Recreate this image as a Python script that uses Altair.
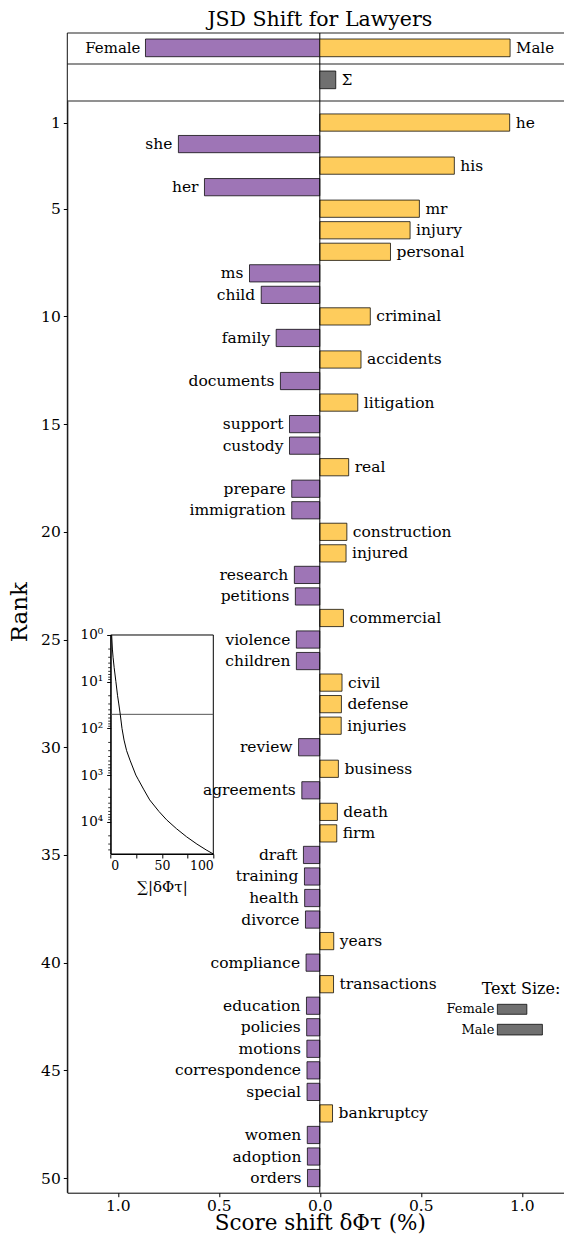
import altair as alt
import pandas as pd

# ---------------- data ----------------
words = ["he", "she", "his", "her", "mr", "injury", "personal", "ms", "child", "criminal",
         "family", "accidents", "documents", "litigation", "support", "custody", "real", "prepare",
         "immigration", "construction", "injured", "research", "petitions", "commercial", "violence",
         "children", "civil", "defense", "injuries", "review", "business", "agreements", "death", "firm",
         "draft", "training", "health", "divorce", "years", "compliance", "transactions", "education",
         "policies", "motions", "correspondence", "special", "bankruptcy", "women", "adoption", "orders"]
shifts = [0.940, -0.700, 0.666, -0.571, 0.493, 0.447, 0.350, -0.348, -0.290, 0.250,
          -0.216, 0.204, -0.195, 0.188, -0.150, -0.150, 0.143, -0.139, -0.139, 0.134,
          0.130, -0.126, -0.121, 0.117, -0.116, -0.116, 0.110, 0.107, 0.106, -0.105,
          0.092, -0.089, 0.087, 0.084, -0.081, -0.076, -0.075, -0.071, 0.069, -0.068,
          0.068, -0.066, -0.065, -0.064, -0.0635, -0.063, 0.063, -0.062, -0.0615, -0.061]
ranks = list(range(1, 51))

total_labels = ["Female", "Male"]
total_values = [-0.863, 0.942]
sigma_label = ["Σ"]
sigma_value = [0.079]

cum_ranks = [1, 2, 3, 5, 10, 20, 30, 50, 100, 178, 300, 478, 1000, 1260, 2000, 3400,
             6000, 9100, 14000, 21000, 30000, 40000, 49000]
cum_pct = [0.94, 1.64, 2.31, 3.37, 5.06, 6.7, 7.9, 9.3, 11.0, 13.0, 15.5, 18.8, 24.5, 27.0,
           32.0, 38.0, 47.0, 54.5, 64.0, 74.0, 84.0, 93.0, 100.0]
cutoff_rank = [50]

size_labels = ["Female", "Male"]
size_start = [0.879, 0.879]
size_values = [0.146, 0.223]

title_text = ["JSD Shift for Lawyers"]
x_ticks = [-1.0, -0.5, 0.0, 0.5, 1.0]
rank_ticks = [1, 5, 10, 15, 20, 25, 30, 35, 40, 45, 50]
inset_x_ticks = [0, 25, 50, 75, 100]
inset_y_ticks = [1, 10, 100, 1000, 10000]
inset_y_labels = ["10⁰", "10¹", "10²", "10³", "10⁴"]
minor_ticks = [m * 10 ** k for k in range(5) for m in range(2, 10) if m * 10 ** k < 49000]

PURPLE = "#9E75B6"
YELLOW = "#FECC5C"
GRAY = "#707070"
FONT = "DejaVu Serif"

# layout (pixels, relative to the plot area's top-left corner)
W_VIEW = 497              # visible part (page is 573 wide incl. 8px margins)
W = 505                   # full extent of the x scale (right edge falls off the page)
H = 1159.7
MAIN_TOP = 68.0
SEP1 = 31.0
IX0, IX1, IY0, IY1 = 43.4, 146.0, 602.0, 821.0

color_scale = alt.Scale(domain=["Female", "Male"], range=[PURPLE, YELLOW])
xs = alt.Scale(domain=[-1.25, 1.25], range=[0, W], nice=False, zero=False)
ys = alt.Scale(domain=[0, 50.68], range=[MAIN_TOP, H], nice=False, zero=False)

xaxis = alt.Axis(values=x_ticks, labelExpr="format(abs(datum.value), '.1f')",
                 title="Score shift δΦτ (%)", titleFontSize=21.5, titleFontWeight="normal",
                 titleBaseline="alphabetic", titleY=37, titleX=W / 2,
                 labelFontSize=15.5, tickSize=4, labelPadding=2,
                 grid=False, domainColor="#000", tickColor="#000", labelColor="#000",
                 titleColor="#000", labelFont=FONT, titleFont=FONT)
yaxis = alt.Axis(values=rank_ticks, title="Rank", titleFontSize=23, titleFontWeight="normal",
                 titleBaseline="middle", titleX=-47.3, titleY=578.7, titleAngle=270,
                 labelFontSize=15.5, tickSize=4, labelPadding=3,
                 grid=False, domainColor="#000", tickColor="#000", labelColor="#000",
                 titleColor="#000", labelFont=FONT, titleFont=FONT)

# ---------------- ranked words ----------------
df = pd.DataFrame({"rank": ranks, "word": words, "shift": shifts})
df["side"] = ["Male" if v > 0 else "Female" for v in shifts]

base = alt.Chart(df).transform_calculate(
    y1="datum.rank - 0.4", y2="datum.rank + 0.4", zero="0")

bars = base.mark_rect(stroke="#000", strokeWidth=1, strokeOpacity=0.75).encode(
    x=alt.X("shift:Q", scale=xs, axis=xaxis),
    x2="zero:Q",
    y=alt.Y("y1:Q", scale=ys, axis=yaxis),
    y2="y2:Q",
    color=alt.Color("side:N", scale=color_scale, legend=None),
)
lab_m = base.transform_filter("datum.shift > 0").mark_text(
    align="left", baseline="middle", dx=6, fontSize=15.5, font=FONT, color="#000").encode(
    x=alt.X("shift:Q", scale=xs, axis=xaxis),
    y=alt.Y("rank:Q", scale=ys, axis=yaxis),
    text="word:N")
lab_f = base.transform_filter("datum.shift < 0").mark_text(
    align="right", baseline="middle", dx=-6, fontSize=15.5, font=FONT, color="#000").encode(
    x=alt.X("shift:Q", scale=xs, axis=xaxis),
    y=alt.Y("rank:Q", scale=ys, axis=yaxis),
    text="word:N")

zdf = pd.DataFrame({"z": [0.0]})
zero_line = alt.Chart(zdf).mark_rule(color="#000", strokeWidth=1).encode(
    x=alt.X("z:Q", scale=xs, axis=xaxis), y=alt.value(0), y2=alt.value(H))

# frame: top line, panel separators and left spine
sep_df = pd.DataFrame({"ypix": [0.0, SEP1, MAIN_TOP]})
seps = alt.Chart(sep_df).mark_rule(color="#222", strokeWidth=1).encode(
    y=alt.Y("ypix:Q", scale=None), x=alt.value(0), x2=alt.value(W))
left_spine = alt.Chart(zdf).mark_rule(color="#111", strokeWidth=1).encode(
    x=alt.value(0), y=alt.value(0), y2=alt.value(H))

# title
title = alt.Chart(pd.DataFrame({"t": title_text})).mark_text(
    align="center", baseline="alphabetic", fontSize=20.5, font=FONT, color="#000").encode(
    x=alt.value(W / 2), y=alt.value(-7), text="t:N")

# ---------------- totals and sigma panels ----------------
tdf = pd.DataFrame({"label": total_labels, "v": total_values, "side": total_labels})
tbase = alt.Chart(tdf).transform_calculate(zero="0")
t_bars = tbase.mark_rect(stroke="#000", strokeWidth=1, strokeOpacity=0.75).encode(
    x=alt.X("v:Q", scale=xs, axis=xaxis), x2="zero:Q",
    y=alt.value(6), y2=alt.value(23.7),
    color=alt.Color("side:N", scale=color_scale, legend=None))
t_lab_f = tbase.transform_filter("datum.v < 0").mark_text(
    align="right", baseline="middle", dx=-5, fontSize=15, font=FONT, color="#000").encode(
    x=alt.X("v:Q", scale=xs, axis=xaxis), y=alt.value(15), text="label:N")
t_lab_m = tbase.transform_filter("datum.v > 0").mark_text(
    align="left", baseline="middle", dx=6, fontSize=15, font=FONT, color="#000").encode(
    x=alt.X("v:Q", scale=xs, axis=xaxis), y=alt.value(15), text="label:N")

sgdf = pd.DataFrame({"label": sigma_label, "v": sigma_value})
sgbase = alt.Chart(sgdf).transform_calculate(zero="0")
s_bar = sgbase.mark_rect(fill=GRAY, stroke="#000", strokeWidth=1, strokeOpacity=0.75).encode(
    x=alt.X("v:Q", scale=xs, axis=xaxis), x2="zero:Q",
    y=alt.value(38), y2=alt.value(55.7))
s_lab = sgbase.mark_text(align="left", baseline="middle", dx=6, fontSize=15, font=FONT,
                         color="#000").encode(
    x=alt.X("v:Q", scale=xs, axis=xaxis), y=alt.value(47), text="label:N")

# ---------------- text size legend ----------------
sdf = pd.DataFrame({"label": size_labels, "start": size_start, "size": size_values,
                    "ypix": [976, 997], "ytop": [971.3, 991.3], "ybot": [981.3, 1002.0]})
sbase = alt.Chart(sdf).transform_calculate(end="datum.start + datum.size")
size_bars = sbase.mark_rect(fill=GRAY, stroke="#000", strokeWidth=1, strokeOpacity=0.75).encode(
    x=alt.X("start:Q", scale=xs, axis=xaxis),
    x2="end:Q",
    y=alt.Y("ytop:Q", scale=None),
    y2="ybot:Q")
size_text = sbase.mark_text(align="right", baseline="middle", fontSize=13, font=FONT,
                            color="#000", dx=-3).encode(
    x=alt.X("start:Q", scale=xs, axis=xaxis),
    y=alt.Y("ypix:Q", scale=None),
    text="label:N")
size_title = alt.Chart(pd.DataFrame({"t": ["Text Size:"]})).mark_text(
    align="center", baseline="middle", fontSize=16, font=FONT, color="#000").encode(
    x=alt.value(453.7), y=alt.value(956.3), text="t:N")

main_layer = alt.layer(bars, seps, left_spine, zero_line, lab_m, lab_f,
                       t_bars, t_lab_f, t_lab_m, s_bar, s_lab,
                       size_bars, size_text, size_title, title)

# ---------------- inset ----------------
ixs = alt.Scale(domain=[0, 100], range=[IX0, IX1], nice=False, zero=False)
iys = alt.Scale(type="log", domain=[1, 49000], range=[IY0, IY1], nice=False)
label_expr_y = " : ".join(
    f"datum.value == {v} ? '{l}'" for v, l in zip(inset_y_ticks, inset_y_labels)) + " : ''"
ixaxis = alt.Axis(orient="bottom", offset=-(H - IY1), values=inset_x_ticks,
                  labelExpr="datum.value % 50 == 0 ? datum.label : ''",
                  title="∑|δΦτ|", titleFontSize=15, titleFontWeight="normal",
                  labelFontSize=12.5, tickSize=4, labelPadding=2, titlePadding=7,
                  grid=False, domainColor="#000", tickColor="#000", labelColor="#000",
                  titleColor="#000", labelFont=FONT, titleFont=FONT)
iyaxis = alt.Axis(orient="left", offset=-IX0, values=inset_y_ticks, labelExpr=label_expr_y,
                  title=None, labelFontSize=13.5, tickSize=4, labelPadding=4,
                  grid=False, domainColor="#000", tickColor="#000", labelColor="#000",
                  labelFont=FONT)

cdf = pd.DataFrame({"r": cum_ranks, "c": cum_pct})
curve = alt.Chart(cdf).mark_line(color="#000", strokeWidth=1).encode(
    x=alt.X("c:Q", scale=ixs, axis=ixaxis),
    y=alt.Y("r:Q", scale=iys, axis=iyaxis))
cut = alt.Chart(pd.DataFrame({"r": cutoff_rank})).mark_rule(color="#555", strokeWidth=1).encode(
    y=alt.Y("r:Q", scale=iys, axis=iyaxis), x=alt.value(IX0), x2=alt.value(IX1))
minor = alt.Chart(pd.DataFrame({"r": minor_ticks})).mark_rule(color="#000", strokeWidth=0.8).encode(
    y=alt.Y("r:Q", scale=iys, axis=iyaxis), x=alt.value(IX0 - 2.5), x2=alt.value(IX0))
frame = alt.Chart(pd.DataFrame({"a": [0]})).mark_rect(
    fill="transparent", stroke="#000", strokeWidth=1).encode(
    x=alt.value(IX0), x2=alt.value(IX1), y=alt.value(IY0), y2=alt.value(IY1))

inset_layer = alt.layer(frame, cut, minor, curve)

chart = alt.layer(main_layer, inset_layer).resolve_scale(
    x="independent", y="independent"
).properties(
    width=W_VIEW, height=H,
    autosize=alt.AutoSizeParams(type="none"),
    padding={"left": 59.3, "right": 0, "top": 25, "bottom": 42.3},
).configure(font=FONT).configure_view(stroke="transparent", strokeWidth=0).configure_axis(grid=False)

chart.save("out.html", embed_options={"renderer": "svg", "actions": False})
